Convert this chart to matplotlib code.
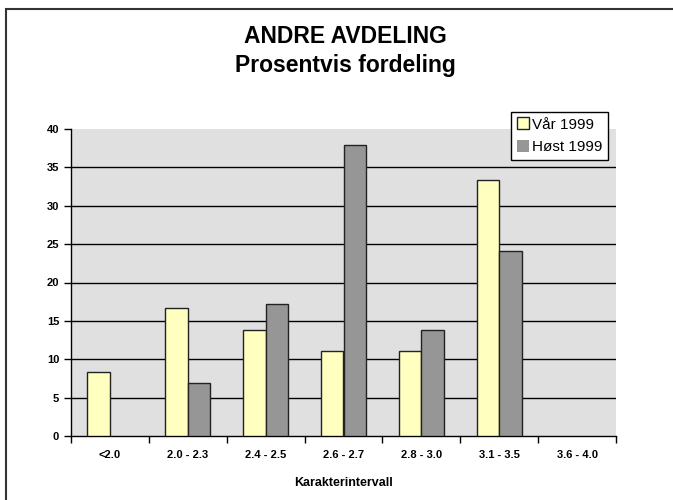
import matplotlib.pyplot as plt
import numpy as np
from matplotlib.patches import Rectangle

plt.rcParams['font.family'] = ['Liberation Sans', 'DejaVu Sans']

kategorier = ['<2.0', '2.0 - 2.3', '2.4 - 2.5', '2.6 - 2.7', '2.8 - 3.0', '3.1 - 3.5', '3.6 - 4.0']
vaar_1999 = [8.3, 16.7, 13.8, 11.1, 11.1, 33.3, 0.0]
host_1999 = [0.0, 6.9, 17.2, 37.9, 13.8, 24.1, 0.0]

fig = plt.figure(figsize=(6.73, 5), dpi=100)
ax = fig.add_axes([71/673, 1 - 436/500, 545/673, 307/500])

# ramme rundt hele figuren (høyre/nedre kant utenfor bildet)
fig.patches.append(Rectangle((6/673, -0.05), 1.2, 1 - 9/500 + 0.05, transform=fig.transFigure,
                             fill=False, edgecolor='#333333', linewidth=1.5))

x = np.arange(len(kategorier))
b = 0.29
ax.set_facecolor('#e0e0e0')
# søyler med verdi 0 tegnes uten kant
lw_v = [1 if v > 0 else 0 for v in vaar_1999]
lw_h = [1 if v > 0 else 0 for v in host_1999]
ax.bar(x - b/2, vaar_1999, b, color='#ffffc0', edgecolor='#222222', linewidth=lw_v,
       label='Vår 1999', zorder=3)
ax.bar(x + b/2, host_1999, b, color='#969696', edgecolor='#222222', linewidth=lw_h,
       label='Høst 1999', zorder=3)

ax.set_xlim(-0.5, len(kategorier) - 0.5)
ax.set_ylim(0, 40)
ax.set_yticks(range(0, 41, 5))
for v in range(5, 40, 5):
    ax.axhline(v, color='black', linewidth=1, zorder=1)

ax.set_xticks(np.arange(-0.5, len(kategorier)), minor=False)
ax.set_xticklabels([])
ax.set_xticks(x, minor=True)
ax.set_xticklabels(kategorier, minor=True, fontsize=8, fontweight='bold')
ax.tick_params(axis='x', which='minor', length=0, pad=10)
ax.tick_params(axis='x', which='major', direction='out', length=5, width=1)
ax.tick_params(axis='y', direction='out', length=5, width=1, labelsize=8)
for t in ax.get_yticklabels():
    t.set_fontweight('bold')

for s in ['top', 'right']:
    ax.spines[s].set_visible(False)
ax.spines['left'].set_linewidth(1)
ax.spines['bottom'].set_linewidth(1)

ax.set_xlabel('Karakterintervall', fontsize=9, fontweight='bold', labelpad=12)
fig.text(345/673, 1 - 51/500, 'ANDRE AVDELING\nProsentvis fordeling', ha='center', va='center',
         fontsize=16.5, fontweight='bold', linespacing=1.35)

leg = ax.legend(loc='upper right', bbox_to_anchor=(0.985, 1.055), fontsize=11,
                fancybox=False, framealpha=1, edgecolor='black', handlelength=0.8,
                handleheight=0.8, handletextpad=0.2, borderpad=0.35, labelspacing=0.55,
                borderaxespad=0)
leg.get_frame().set_linewidth(1)

fig.savefig('out.png', dpi=100)
